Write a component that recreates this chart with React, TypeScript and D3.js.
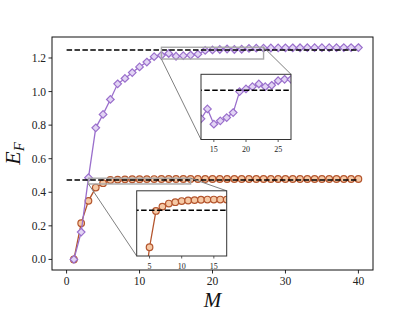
import React from "react";
import * as d3 from "d3";

const M = d3.range(1, 41);
const purpleVals = [0.0, 0.163, 0.487, 0.784, 0.864, 0.953, 1.046, 1.078, 1.113, 1.147, 1.176, 1.208,
  1.2162, 1.2268, 1.2105, 1.214, 1.2175, 1.2229, 1.2454, 1.2483, 1.2507, 1.2536, 1.2507, 1.2522,
  1.2571, 1.2586, 1.2586, 1.2596, 1.26, 1.2604, 1.2607, 1.261, 1.2612, 1.2614, 1.2615, 1.2616,
  1.2617, 1.2618, 1.2619, 1.262];
const orangeVals = [0.0, 0.216, 0.349, 0.428, 0.454, 0.4731, 0.4754, 0.477, 0.4777, 0.4783, 0.4786,
  0.4788, 0.479, 0.4791, 0.4791, 0.4791, 0.4791, 0.4791, 0.4791, 0.4791, 0.4791, 0.4791, 0.4791,
  0.4791, 0.4791, 0.4791, 0.4791, 0.4791, 0.4791, 0.4791, 0.4791, 0.4791, 0.4791, 0.4791, 0.4791,
  0.4791, 0.4791, 0.4791, 0.4791, 0.4791];
const purpleRef = 1.247;
const orangeRef = 0.4735;
const refRange = [0, 40];
const xTicks = [0, 10, 20, 30, 40];
const yTicks = [0.0, 0.2, 0.4, 0.6, 0.8, 1.0, 1.2];
const purpleInsetX = [13, 27];
const purpleInsetY = [1.194, 1.264];
const purpleInsetTicks = [15, 20, 25];
const orangeInsetX = [3, 17];
const orangeInsetY = [0.4494, 0.4837];
const orangeInsetTicks = [5, 10, 15];

const FONT = "'Liberation Serif', 'DejaVu Serif', serif";
const PURPLE = "#9a6fcc";
const PURPLE_FACE = "#e2d4f4";
const ORANGE = "#b4552d";
const ORANGE_FACE = "#f6c9a5";

type Box = { l: number; r: number; t: number; b: number };

function Series({ x, y, vals, kind }: { x: d3.ScaleLinear<number, number>; y: d3.ScaleLinear<number, number>; vals: number[]; kind: "d" | "o" }) {
  const pts = M.map((m, i) => [x(m), y(vals[i])] as [number, number]);
  const line = d3.line()(pts) || "";
  const col = kind === "d" ? PURPLE : ORANGE;
  const face = kind === "d" ? PURPLE_FACE : ORANGE_FACE;
  const s = 3.8;
  return (
    <g>
      <path d={line} fill="none" stroke={col} strokeWidth={1.3} />
      {pts.map(([px, py], i) =>
        kind === "d" ? (
          <path key={i} d={`M${px},${py - s}L${px + s},${py}L${px},${py + s}L${px - s},${py}Z`} fill={face} stroke={col} strokeWidth={1.2} />
        ) : (
          <circle key={i} cx={px} cy={py} r={3.3} fill={face} stroke={col} strokeWidth={1.2} />
        )
      )}
    </g>
  );
}

function RefLine({ x, y, v }: { x: d3.ScaleLinear<number, number>; y: d3.ScaleLinear<number, number>; v: number }) {
  return <line x1={x(refRange[0])} x2={x(refRange[1])} y1={y(v)} y2={y(v)} stroke="#000" strokeWidth={1.5} strokeDasharray="5.5,2.4" />;
}

function Inset({ id, box, xd, yd, ticks, vals, kind, refV, mx, my }: {
  id: string; box: Box; xd: number[]; yd: number[]; ticks: number[]; vals: number[]; kind: "d" | "o"; refV: number;
  mx: d3.ScaleLinear<number, number>; my: d3.ScaleLinear<number, number>;
}) {
  const x = d3.scaleLinear().domain(xd).range([box.l, box.r]);
  const y = d3.scaleLinear().domain(yd).range([box.b, box.t]);
  const rx0 = mx(xd[0]), rx1 = mx(xd[1]), ry0 = my(yd[0]), ry1 = my(yd[1]);
  return (
    <g>
      <rect x={rx0} y={ry1} width={rx1 - rx0} height={ry0 - ry1} fill="none" stroke="#a8a8a8" strokeWidth={1.4} />
      <line x1={rx0} y1={ry0} x2={box.l} y2={box.b} stroke="#808080" strokeWidth={1} />
      <line x1={rx1} y1={ry1} x2={box.r} y2={box.t} stroke="#808080" strokeWidth={1} />
      <rect x={box.l} y={box.t} width={box.r - box.l} height={box.b - box.t} fill="#fff" />
      <defs>
        <clipPath id={id}>
          <rect x={box.l} y={box.t} width={box.r - box.l} height={box.b - box.t} />
        </clipPath>
      </defs>
      <g clipPath={`url(#${id})`}>
        <Series x={x} y={y} vals={vals} kind={kind} />
        <RefLine x={x} y={y} v={refV} />
      </g>
      <rect x={box.l} y={box.t} width={box.r - box.l} height={box.b - box.t} fill="none" stroke="#333" strokeWidth={1} />
      {ticks.map((t) => (
        <g key={t}>
          <line x1={x(t)} x2={x(t)} y1={box.b} y2={box.b + 2.5} stroke="#333" strokeWidth={0.8} />
          <text x={x(t)} y={box.b + 12.5} textAnchor="middle" fontSize={8} fontFamily={FONT} fill="#222">{t}</text>
        </g>
      ))}
    </g>
  );
}

export default function App() {
  const W = 415, H = 311;
  const box: Box = { l: 52, r: 373, t: 37, b: 270 };
  const x = d3.scaleLinear().domain([-2, 42]).range([box.l, box.r]);
  const ymax = 1.262;
  const y = d3.scaleLinear().domain([-0.05 * ymax, 1.05 * ymax]).range([box.b, box.t]);
  return (
    <div style={{ position: "fixed", left: 0, top: 0 }}>
      <svg width={W} height={H} style={{ display: "block", background: "#fff" }}>
        <defs>
          <clipPath id="mainclip">
            <rect x={box.l} y={box.t} width={box.r - box.l} height={box.b - box.t} />
          </clipPath>
        </defs>
        <g clipPath="url(#mainclip)">
          <Series x={x} y={y} vals={orangeVals} kind="o" />
          <Series x={x} y={y} vals={purpleVals} kind="d" />
          <RefLine x={x} y={y} v={purpleRef} />
          <RefLine x={x} y={y} v={orangeRef} />
        </g>
        <Inset id="insP" box={{ l: 201, r: 291, t: 74.3, b: 139.5 }} xd={purpleInsetX} yd={purpleInsetY} ticks={purpleInsetTicks}
          vals={purpleVals} kind="d" refV={purpleRef} mx={x} my={y} />
        <Inset id="insO" box={{ l: 136.7, r: 226.7, t: 190.8, b: 256 }} xd={orangeInsetX} yd={orangeInsetY} ticks={orangeInsetTicks}
          vals={orangeVals} kind="o" refV={orangeRef} mx={x} my={y} />
        <rect x={box.l} y={box.t} width={box.r - box.l} height={box.b - box.t} fill="none" stroke="#111" strokeWidth={1} />
        {xTicks.map((t) => (
          <g key={t}>
            <line x1={x(t)} x2={x(t)} y1={box.b} y2={box.b + 3.5} stroke="#111" strokeWidth={0.9} />
            <text x={x(t)} y={box.b + 15} textAnchor="middle" fontSize={11.5} fontFamily={FONT} fill="#222">{t}</text>
          </g>
        ))}
        {yTicks.map((t) => (
          <g key={t}>
            <line x1={box.l} x2={box.l - 3.5} y1={y(t)} y2={y(t)} stroke="#111" strokeWidth={0.9} />
            <text x={box.l - 6} y={y(t) + 4} textAnchor="end" fontSize={11.5} fontFamily={FONT} fill="#222">{t.toFixed(1)}</text>
          </g>
        ))}
        <text x={(box.l + box.r) / 2} y={306.5} textAnchor="middle" fontSize={21} fontStyle="italic" fontFamily={FONT} fill="#111">M</text>
        <text transform={`translate(20,${(box.t + box.b) / 2}) rotate(-90)`} textAnchor="middle" fontSize={22} fontStyle="italic" fontFamily={FONT} fill="#111">
          E<tspan fontSize={15} dy={4}>F</tspan>
        </text>
      </svg>
    </div>
  );
}
